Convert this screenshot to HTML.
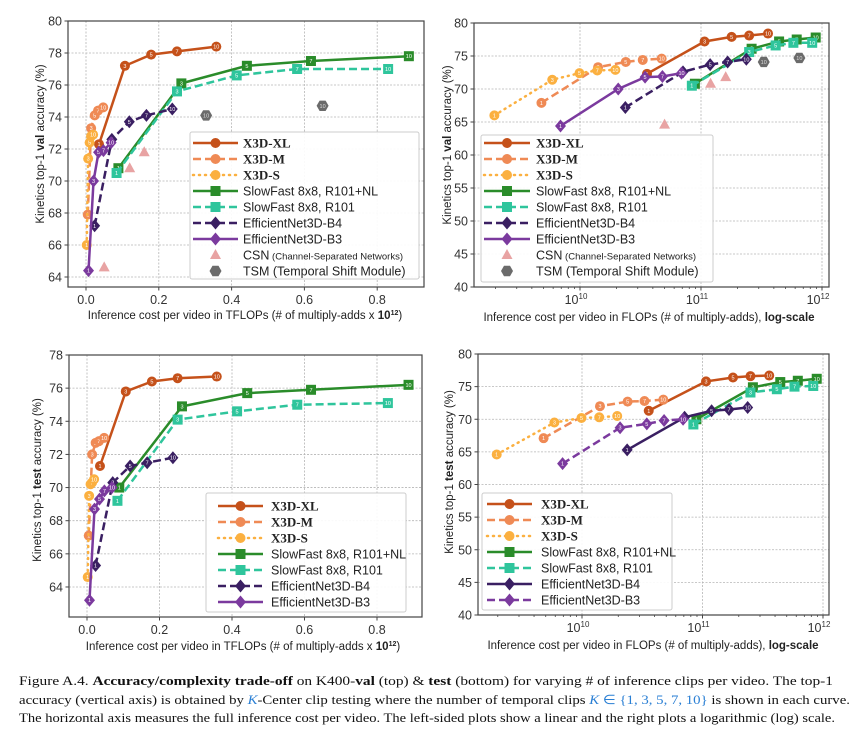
<!DOCTYPE html>
<html><head><meta charset="utf-8">
<style>
html,body{margin:0;padding:0;background:#fff;}
svg{display:block;font-family:"Liberation Sans",sans-serif;}
</style></head>
<body>
<svg id="fig" width="865" height="732" viewBox="0 0 865 732" xmlns="http://www.w3.org/2000/svg">
<g id="panels"></g>
<g font-family="Liberation Serif, serif" font-size="13" fill="#111">
<text x="19" y="685" textLength="814" lengthAdjust="spacingAndGlyphs">Figure A.4. <tspan font-weight="bold">Accuracy/complexity trade-off</tspan> on K400-<tspan font-weight="bold">val</tspan> (top) &amp; <tspan font-weight="bold">test</tspan> (bottom) for varying # of inference clips per video.  The top-1</text>
<text x="19" y="704" textLength="831" lengthAdjust="spacingAndGlyphs">accuracy (vertical axis) is obtained by <tspan fill="#2a7fd4" font-style="italic">K</tspan>-Center clip testing where the number of temporal clips <tspan fill="#2a7fd4"><tspan font-style="italic">K</tspan> ∈ {1, 3, 5, 7, 10}</tspan> is shown in each curve.</text>
<text x="19" y="722" textLength="816" lengthAdjust="spacingAndGlyphs">The horizontal axis measures the full inference cost per video. The left-sided plots show a linear and the right plots a logarithmic (log) scale.</text>
</g>
</svg>
<script>
// ---- data (x in TFLOPs) ----
const clips=[1,3,5,7,10];
const xlCost=[0.0358,0.107,0.179,0.250,0.358];
const mCost=[0.0048,0.0141,0.0239,0.033,0.0473];
const sCost=[0.00196,0.0059,0.0099,0.0139,0.0196];
const sfnlCost=[0.089,0.262,0.442,0.618,0.887];
const sfCost=[0.084,0.250,0.414,0.580,0.830];
const b4Cost=[0.0237,0.071,0.119,0.166,0.237];
const b3Cost=[0.0069,0.0207,0.0345,0.048,0.069];
const xlVal=[72.3,77.2,77.9,78.1,78.4];
const mVal=[67.9,73.3,74.1,74.4,74.6];
const sVal=[66.0,71.4,72.4,72.8,72.9];
const sfnlVal=[70.8,76.1,77.2,77.5,77.8];
const sfVal=[70.5,75.6,76.6,77.0,77.0];
const b4Val=[67.2,72.6,73.7,74.1,74.5];
const b3Val=[64.4,70.0,71.8,71.9,72.4];
const xlTest=[71.3,75.8,76.4,76.6,76.7];
const mTest=[67.1,72.0,72.7,72.8,73.0];
const sTest=[64.6,69.5,70.2,70.3,70.5];
const sfnlTest=[70.0,74.9,75.7,75.9,76.2];
const sfTest=[69.2,74.1,74.6,75.0,75.1];
const b4Test=[65.3,70.3,71.3,71.5,71.8];
const b3Test=[63.2,68.7,69.3,69.8,70.0];
const csnCost=[0.05,0.12,0.16];
const csnVal=[64.6,70.8,71.8];
const tsmCost=[0.33,0.65];
const tsmVal=[74.1,74.7];
const linTicks=[0.0,0.2,0.4,0.6,0.8];
const logTicks=[10,11,12];
const yTicksTL=[64,66,68,70,72,74,76,78,80];
const yTicksBL=[64,66,68,70,72,74,76,78];
const yTicksR=[40,45,50,55,60,65,70,75,80];

const NS="http://www.w3.org/2000/svg";
const root=document.getElementById('panels');
function el(tag,attrs,parent){const e=document.createElementNS(NS,tag);for(const k in attrs)e.setAttribute(k,attrs[k]);(parent||root).appendChild(e);return e;}

const C={xl:'#c5511a',m:'#ef8a55',s:'#fbb040',sfnl:'#2a8c2a',sf:'#2fc59c',b4:'#3a1f62',b3:'#7b3a9e'};

function marker(g,type,x,y,color,label){
  let m;
  if(type==='o'){m=el('circle',{cx:x,cy:y,r:5,fill:color},g);}
  else if(type==='s'){m=el('rect',{x:x-5,y:y-5,width:10,height:10,fill:color},g);}
  else if(type==='d'){m=el('polygon',{points:`${x},${y-6.5} ${x+5.5},${y} ${x},${y+6.5} ${x-5.5},${y}`,fill:color},g);}
  
  
  if(label!==undefined){const t=el('text',{x:x,y:y+2,'font-size':5.5,'text-anchor':'middle',fill:'#fff'},g);t.textContent=label;}
}

function panel(cfg){
  const g=el('g',{});
  
  
  const L=cfg.L,R=cfg.R,T=cfg.T,B=cfg.B;
  const xs=cfg.log?(v=>cfg.x0+(Math.log10(v*1e12)-10)*cfg.dec):(v=>cfg.x0+v*cfg.xk);
  const ys=v=>cfg.y0+(cfg.yv0-v)*cfg.yk;
  // grid
  cfg.yt.forEach(v=>{const y=ys(v);
    el('line',{x1:L,x2:R,y1:y,y2:y,stroke:'#b5b5b5','stroke-width':0.8,'stroke-dasharray':'2,1.5'},g);
    el('line',{x1:L-3.5,x2:L,y1:y,y2:y,stroke:'#444'},g);
    const t=el('text',{x:L-6,y:y+4.5,'font-size':12.5,'text-anchor':'end',fill:'#333'},g);t.textContent=v;
    
  });
  if(cfg.log){
    logTicks.forEach(p=>{const x=cfg.x0+(p-10)*cfg.dec;
      el('line',{x1:x,x2:x,y1:T,y2:B,stroke:'#b5b5b5','stroke-width':0.8,'stroke-dasharray':'2,1.5'},g);
      el('line',{x1:x,x2:x,y1:B,y2:B+3.5,stroke:'#444'},g);
      const t=el('text',{x:x-4,y:B+17,'font-size':12.5,'text-anchor':'middle',fill:'#333'},g);
      
      t.textContent='10';const s=el('tspan',{dy:-5,'font-size':8},t);s.textContent=p;
    });
    for(let p=9;p<12;p++)for(let k=2;k<10;k++){const x=cfg.x0+(p+Math.log10(k)-10)*cfg.dec;if(x>L&&x<R)el('line',{x1:x,x2:x,y1:B,y2:B+2,stroke:'#444','stroke-width':0.8},g);}
  } else {
    linTicks.forEach(v=>{const x=xs(v);
      el('line',{x1:x,x2:x,y1:T,y2:B,stroke:'#b5b5b5','stroke-width':0.8,'stroke-dasharray':'2,1.5'},g);
      el('line',{x1:x,x2:x,y1:B,y2:B+3.5,stroke:'#444'},g);
      const t=el('text',{x:x,y:B+17,'font-size':12.5,'text-anchor':'middle',fill:'#333'},g);t.textContent=v.toFixed(1);
      
    });
  }
  const fr=el('rect',{x:L,y:T,width:R-L,height:B-T,fill:'none',stroke:'#444','stroke-width':1.2},g);
  
  // axis labels
  const xl=el('text',{x:cfg.xlx,y:cfg.xly,'font-size':11.5,'text-anchor':'middle',fill:'#222'},g);
  
  if(cfg.log){xl.innerHTML='Inference cost per video in FLOPs (# of multiply-adds), <tspan font-weight="bold">log-scale</tspan>';}
  else{xl.innerHTML='Inference cost per video in TFLOPs (# of multiply-adds x <tspan font-weight="bold">10</tspan><tspan font-weight="bold" dy="-4" font-size="7">12</tspan><tspan dy="4">)</tspan>';}
  const yl=el('text',{x:0,y:0,'font-size':11.5,'text-anchor':'middle',fill:'#222',transform:`translate(${cfg.ylx},${cfg.yly}) rotate(-90)`},g);
  
  yl.innerHTML=`Kinetics top-1 <tspan font-weight="bold">${cfg.split}</tspan> accuracy (%)`;
  // series
  cfg.series.forEach(s=>{
    const sg=el('g',{},g);
    
    const pts=s.x.map((v,i)=>xs(v)+','+ys(s.y[i])).join(' ');
    const pl=el('polyline',{points:pts,fill:'none',stroke:s.c,'stroke-width':2.5,'stroke-dasharray':s.dash||'none','stroke-linecap':s.dash==='1,5'?'round':'butt'},sg);
    
    s.x.forEach((v,i)=>marker(sg,s.m,xs(v),ys(s.y[i]),s.c,clips[i]));
  });
  if(cfg.extras){
    const eg=el('g',{},g);
    csnCost.forEach((v,i)=>{const x=xs(v),y=ys(csnVal[i]);const p=el('polygon',{points:`${x},${y-6} ${x+5.5},${y+4} ${x-5.5},${y+4}`,fill:'#e8a3a3'},eg);
      });
    tsmCost.forEach((v,i)=>{const x=xs(v),y=ys(tsmVal[i]);let pp=[];for(let k=0;k<6;k++){const a=Math.PI/3*k;pp.push((x+6*Math.cos(a))+','+(y+6*Math.sin(a)));}
      const p=el('polygon',{points:pp.join(' '),fill:'#6b6b6b'},eg);
      const t=el('text',{x:x,y:y+2,'font-size':5.5,'text-anchor':'middle',fill:'#ddd'},eg);t.textContent='10';});
  }
  // legend
  const lg=cfg.leg;
  const lgG=el('g',{},g);
  el('rect',{x:lg.x,y:lg.y,width:lg.w,height:lg.h,fill:'#fff','fill-opacity':0.92,stroke:'#ccc','stroke-width':1,rx:2},lgG);
  const entries=cfg.series.map(s=>s).concat(cfg.extras?[{id:'csn',name:'CSN',sub:' (Channel-Separated Networks)'},{id:'tsm',name:'TSM (Temporal Shift Module)'}]:[]);
  entries.forEach((s,i)=>{
    const y=lg.ey+i*16;
    const eg=el('g',{},lgG);
    const mx=(lg.lx0+lg.lx1)/2;
    if(s.id==='csn'){el('polygon',{points:`${mx},${y-6} ${mx+5.5},${y+4} ${mx-5.5},${y+4}`,fill:'#e8a3a3'},eg);}
    else if(s.id==='tsm'){let pp=[];for(let k=0;k<6;k++){const a=Math.PI/3*k;pp.push((mx+6*Math.cos(a))+','+(y+6*Math.sin(a)));}el('polygon',{points:pp.join(' '),fill:'#6b6b6b'},eg);}
    else{el('line',{x1:lg.lx0,x2:lg.lx1,y1:y,y2:y,stroke:s.c,'stroke-width':2.5,'stroke-dasharray':s.dash||'none','stroke-linecap':s.dash==='1,5'?'round':'butt'},eg);marker(eg,s.m,mx,y,s.c);}
    const bold=s.id==='xl'||s.id==='m'||s.id==='s';
    const t=el('text',{x:lg.tx,y:y+4.5,'font-size':bold?13:12.5,fill:'#222','font-family':bold?'Liberation Serif, serif':'Liberation Sans, sans-serif','font-weight':bold?'bold':'normal'},eg);
    t.textContent=s.name;
    if(s.sub){const sp=el('tspan',{'font-size':9.5},t);sp.textContent=s.sub;}
  });
}

function seriesSet(val,swap){
  return [
    {id:'xl',name:'X3D-XL',x:xlCost,y:val[0],c:C.xl,m:'o'},
    {id:'m',name:'X3D-M',x:mCost,y:val[1],c:C.m,m:'o',dash:'8,4'},
    {id:'s',name:'X3D-S',x:sCost,y:val[2],c:C.s,m:'o',dash:'1,5'},
    {id:'sfnl',name:'SlowFast 8x8, R101+NL',x:sfnlCost,y:val[3],c:C.sfnl,m:'s'},
    {id:'sf',name:'SlowFast 8x8, R101',x:sfCost,y:val[4],c:C.sf,m:'s',dash:'8,4'},
    {id:'b4',name:'EfficientNet3D-B4',x:b4Cost,y:val[5],c:C.b4,m:'d',dash:swap?undefined:'8,4'},
    {id:'b3',name:'EfficientNet3D-B3',x:b3Cost,y:val[6],c:C.b3,m:'d',dash:swap?'8,4':undefined}
  ];
}
const V=[xlVal,mVal,sVal,sfnlVal,sfVal,b4Val,b3Val];
const Te=[xlTest,mTest,sTest,sfnlTest,sfTest,b4Test,b3Test];

panel({name:'val-linear-chart',L:68,R:424,T:21,B:287,x0:86,xk:364,y0:21,yv0:80,yk:16,yt:yTicksTL,split:'val',
  xlx:245,xly:319,ylx:44,yly:144,series:seriesSet(V),extras:true,
  leg:{x:190,y:132,w:229,h:147,ey:143,lx0:193,lx1:238,tx:243}});
panel({name:'val-log-chart',log:true,L:474,R:829,T:23,B:287,x0:580,dec:121,y0:23,yv0:80,yk:6.6,yt:yTicksR,split:'val',
  xlx:649,xly:321,ylx:451,yly:145,series:seriesSet(V),extras:true,
  leg:{x:481,y:135,w:232,h:147,ey:143,lx0:484,lx1:530,tx:536}});
panel({name:'test-linear-chart',L:69,R:422,T:355,B:617,x0:87,xk:362.5,y0:355,yv0:78,yk:16.57,yt:yTicksBL,split:'test',
  xlx:243,xly:650,ylx:41,yly:480,series:seriesSet(Te),
  leg:{x:206,y:493,w:200,h:119,ey:506,lx0:218,lx1:263,tx:271}});
panel({name:'test-log-chart',log:true,L:478,R:829,T:354,B:615,x0:582,dec:120.5,y0:354,yv0:80,yk:6.525,yt:yTicksR,split:'test',
  xlx:653,xly:649,ylx:453,yly:472,series:seriesSet(Te,true),
  leg:{x:482,y:493,w:190,h:117,ey:504,lx0:487,lx1:532,tx:541}});
</script>
</body></html>
